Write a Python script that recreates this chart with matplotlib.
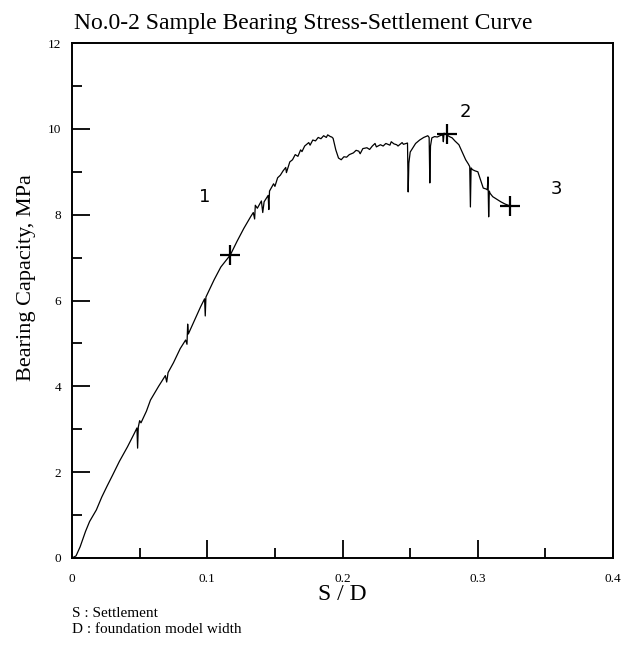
import matplotlib
matplotlib.use('Agg')
import matplotlib.pyplot as plt
from matplotlib.ticker import MultipleLocator

plt.rcParams['font.family'] = ['Liberation Serif', 'DejaVu Serif']

# load test trace, S/D vs bearing capacity (MPa), read at intervals incl. unloading spikes
sd = [0.000, 0.003, 0.006, 0.010, 0.013, 0.018, 0.022, 0.026, 0.030, 0.035, 0.041, 0.046,
      0.048, 0.0485, 0.049, 0.050, 0.051, 0.055, 0.058, 0.064, 0.069, 0.070, 0.071, 0.075,
      0.080, 0.084, 0.085, 0.0855, 0.086, 0.090, 0.095, 0.097, 0.098, 0.0985, 0.099, 0.105,
      0.110, 0.117, 0.122, 0.127, 0.132, 0.134, 0.135, 0.1355, 0.137, 0.140, 0.141, 0.142,
      0.144, 0.145, 0.1455, 0.146, 0.149, 0.150, 0.152, 0.154, 0.156, 0.158, 0.1585, 0.161,
      0.163, 0.165, 0.167, 0.169, 0.170, 0.172, 0.175, 0.176, 0.178, 0.180, 0.182, 0.184,
      0.186, 0.188, 0.189, 0.191, 0.192, 0.193, 0.195, 0.197, 0.199, 0.201, 0.203, 0.205,
      0.208, 0.210, 0.212, 0.213, 0.215, 0.218, 0.220, 0.222, 0.224, 0.225, 0.228, 0.230,
      0.232, 0.235, 0.236, 0.238, 0.240, 0.241, 0.244, 0.245, 0.247, 0.248, 0.2485, 0.249,
      0.250, 0.252, 0.254, 0.257, 0.260, 0.263, 0.264, 0.2645, 0.265, 0.266, 0.268, 0.270,
      0.272, 0.274, 0.2745, 0.275, 0.277, 0.279, 0.281, 0.283, 0.286, 0.289, 0.291, 0.293,
      0.294, 0.2945, 0.295, 0.296, 0.298, 0.300, 0.302, 0.304, 0.306, 0.307, 0.3075, 0.308,
      0.3085, 0.309, 0.311, 0.314, 0.317, 0.320, 0.324]
capacity = [0.00, 0.05, 0.26, 0.62, 0.85, 1.12, 1.42, 1.68, 1.93, 2.25, 2.59, 2.90,
            3.03, 2.56, 3.05, 3.20, 3.15, 3.42, 3.68, 4.00, 4.25, 4.10, 4.32, 4.55,
            4.88, 5.08, 4.98, 5.45, 5.22, 5.50, 5.85, 5.98, 6.04, 5.64, 6.08, 6.48,
            6.78, 7.06, 7.38, 7.68, 7.95, 8.05, 7.90, 8.22, 8.15, 8.32, 8.05, 8.30,
            8.40, 8.45, 8.12, 8.55, 8.72, 8.66, 8.86, 8.92, 9.02, 9.10, 8.98, 9.23,
            9.28, 9.40, 9.36, 9.51, 9.47, 9.60, 9.68, 9.62, 9.74, 9.72, 9.80, 9.77,
            9.84, 9.80, 9.86, 9.82, 9.81, 9.78, 9.51, 9.32, 9.28, 9.35, 9.34, 9.40,
            9.44, 9.50, 9.48, 9.42, 9.54, 9.56, 9.52, 9.60, 9.66, 9.58, 9.63, 9.60,
            9.66, 9.62, 9.70, 9.65, 9.63, 9.60, 9.68, 9.64, 9.66, 9.67, 8.53, 9.20,
            9.46, 9.56, 9.66, 9.74, 9.80, 9.84, 9.80, 8.74, 9.60, 9.79, 9.82, 9.81,
            9.84, 9.86, 9.70, 9.90, 9.86, 9.82, 9.79, 9.72, 9.63, 9.42, 9.28, 9.18,
            9.12, 8.18, 9.09, 9.05, 9.02, 9.00, 8.81, 8.62, 8.60, 8.58, 8.88, 7.95,
            8.55, 8.50, 8.42, 8.36, 8.30, 8.25, 8.20]

# characteristic points 1-3 and where their numbers sit
mark_sd = [0.117, 0.277, 0.324]
mark_cap = [7.06, 9.88, 8.20]
label_names = ['1', '2', '3']
label_sd = [0.098, 0.291, 0.358]
label_cap = [8.41, 10.40, 8.60]

fig = plt.figure(figsize=(6.25, 6.62), dpi=100)
ax = fig.add_axes([0.1152, 0.1571, 0.8658, 0.7779])

ax.plot(sd, capacity, color='black', lw=0.9)
ax.plot(mark_sd, mark_cap, linestyle='none', marker='+', color='black',
        markersize=15, markeredgewidth=1.6)
for name, lx, ly in zip(label_names, label_sd, label_cap):
    ax.text(lx, ly, name, family='DejaVu Sans', fontsize=13, ha='center', va='center')

ax.set_xlim(0, 0.4)
ax.set_ylim(0, 12)
ax.xaxis.set_major_locator(MultipleLocator(0.1))
ax.xaxis.set_minor_locator(MultipleLocator(0.05))
ax.yaxis.set_major_locator(MultipleLocator(2))
ax.yaxis.set_minor_locator(MultipleLocator(1))
ax.xaxis.set_major_formatter(plt.FuncFormatter(lambda v, p: '0' if v == 0 else f'{v:g}'))

ax.tick_params(which='both', direction='in', top=False, right=False, labelsize=9.5)
ax.tick_params(which='major', length=13, width=1.3)
ax.tick_params(which='minor', length=7, width=1.3)
ax.tick_params(axis='x', pad=11)
ax.tick_params(axis='y', pad=8)
for s in ax.spines.values():
    s.set_linewidth(1.4)

fig.text(0.486, 0.964, 'No.0-2 Sample Bearing Stress-Settlement Curve',
         fontsize=17, ha='center', va='center')
ax.set_xlabel('S / D', fontsize=17, labelpad=-1)
ax.set_ylabel('Bearing Capacity, MPa', fontsize=16, labelpad=8, y=0.544)

fig.text(0.115, 0.074, 'S : Settlement', fontsize=11, va='center')
fig.text(0.115, 0.049, 'D : foundation model width', fontsize=11, va='center')

fig.savefig('out.png', dpi=100)
